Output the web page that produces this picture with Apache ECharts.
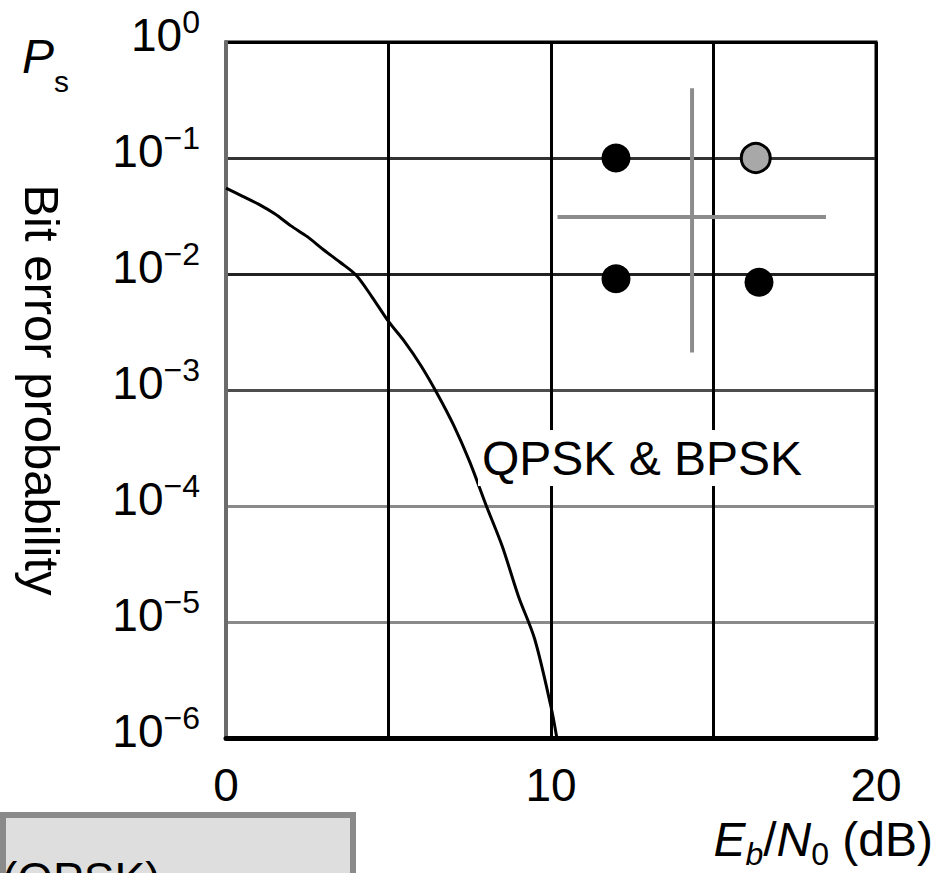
<!DOCTYPE html>
<html>
<head>
<meta charset="utf-8">
<title>QPSK & BPSK bit error probability</title>
<script src="https://cdn.jsdelivr.net/npm/echarts@6/dist/echarts.min.js"></script>
<style>
  html, body { margin: 0; padding: 0; background: #fff; }
  #chart { width: 934px; height: 873px; }
</style>
</head>
<body>
<div id="chart"></div>
<script>
// curve: Eb/N0 (dB) -> bit error probability
const ebn0Db = [0, 0.5, 1, 1.5, 2, 2.5, 3, 3.5, 4, 4.5, 5, 5.5, 6, 6.5, 7, 7.5, 8, 8.5, 9, 9.5, 10, 10.18]
const bitErrorProb = [0.055, 0.047, 0.040, 0.033, 0.026, 0.021, 0.0162, 0.0127, 0.0098, 0.0063, 0.0039, 0.0026,
  0.00162, 0.00093, 0.00050, 0.00024, 0.000102, 0.000045, 0.0000166, 0.0000071, 0.00000186, 0.000001]

// axes
const xTicks = [0, 10, 20]
const yExponents = [0, -1, -2, -3, -4, -5, -6]

// constellation inset (4 points + cross), in chart units
const dotX = [12.0, 16.3, 12.0, 16.4]
const dotY = [0.1, 0.1, 0.0091, 0.0085]
const crossVX = [14.34, 14.34]
const crossVY = [0.40, 0.0021]
const crossHX = [10.2, 18.46]
const crossHY = [0.031, 0.031]

const FONT = '"Liberation Sans", Arial, Helvetica, sans-serif'

const chart = echarts.init(document.getElementById('chart'), null, { renderer: 'svg' })

// colours of the decade lines, from 1e-6 up to 1e0
const decadeColors = ['#000', '#8a8a8a', '#8a8a8a', '#4d4d4d', '#222', '#333', '#000']

function yLabel (v) {
  const e = Math.round(Math.log10(v))
  return '{b|10}{s|' + (e === 0 ? '0' : '\u2212' + (-e)) + '}'
}

const option = {
  animation: false,
  backgroundColor: '#fff',
  grid: {
    left: 226,
    right: 58,
    top: 42,
    bottom: 135,
    outerBoundsMode: 'none',
    show: true,
    borderColor: '#000',
    borderWidth: 3
  },
  xAxis: {
    type: 'value',
    min: 0,
    max: 20,
    interval: 5,
    axisLine: { lineStyle: { color: '#000', width: 5 } },
    axisTick: { show: false },
    axisLabel: {
      fontFamily: FONT,
      fontSize: 46,
      color: '#000',
      margin: 24,
      formatter: function (v) { return xTicks.indexOf(v) >= 0 ? String(v) : '' }
    },
    splitLine: { lineStyle: { color: '#000', width: 3 } },
    name: '{i|E}{si|b}{n|/}{i|N}{s|0}{n| (dB)}',
    nameLocation: 'end',
    nameGap: 57,
    nameTextStyle: {
      align: 'right',
      verticalAlign: 'top',
      padding: [70, 0, 0, 0],
      rich: {
        i: { fontFamily: FONT, fontSize: 48, fontStyle: 'italic', lineHeight: 62, color: '#000' },
        n: { fontFamily: FONT, fontSize: 48, lineHeight: 62, color: '#000' },
        si: { fontFamily: FONT, fontSize: 32, fontStyle: 'italic', lineHeight: 28, verticalAlign: 'bottom', color: '#000' },
        s: { fontFamily: FONT, fontSize: 32, lineHeight: 28, verticalAlign: 'bottom', color: '#000' }
      }
    }
  },
  yAxis: {
    type: 'log',
    logBase: 10,
    min: Math.pow(10, yExponents[yExponents.length - 1]),
    max: Math.pow(10, yExponents[0]),
    splitNumber: 6,
    axisLine: { lineStyle: { color: '#6b6b6b', width: 4 } },
    axisTick: { show: false },
    axisLabel: {
      margin: 26,
      padding: [0, 0, 14, 0],
      formatter: yLabel,
      rich: {
        b: { fontFamily: FONT, fontSize: 46, lineHeight: 58, color: '#000' },
        s: { fontFamily: FONT, fontSize: 32, lineHeight: 34, verticalAlign: 'top', color: '#000' }
      }
    },
    splitLine: { lineStyle: { color: decadeColors, width: 3 } },
    name: 'Bit error probability',
    nameLocation: 'middle',
    nameRotate: -90,
    nameGap: 160,
    nameTextStyle: { fontFamily: FONT, fontSize: 49, color: '#000' }
  },
  series: [
    {
      // the BER curve
      type: 'line',
      data: ebn0Db.map((x, i) => [x, bitErrorProb[i]]),
      smooth: 0.3,
      showSymbol: false,
      lineStyle: { color: '#000', width: 3 },
      z: 3
    },
    {
      type: 'line',
      data: crossVX.map((x, i) => [x, crossVY[i]]),
      showSymbol: false,
      lineStyle: { color: '#8c8c8c', width: 4 },
      z: 2
    },
    {
      type: 'line',
      data: crossHX.map((x, i) => [x, crossHY[i]]),
      showSymbol: false,
      lineStyle: { color: '#8c8c8c', width: 4 },
      z: 2
    },
    {
      type: 'scatter',
      symbolSize: 29,
      data: dotX.map((x, i) => ({
        value: [x, dotY[i]],
        itemStyle: i === 1
          ? { color: '#a8a8a8', borderColor: '#000', borderWidth: 3, opacity: 1 }
          : { color: '#000', opacity: 1 }
      })),
      z: 4
    }
  ],
  graphic: [
    {
      type: 'text',
      left: 22,
      top: 32,
      style: {
        text: '{p|P}{s|s}',
        rich: {
          p: { fontFamily: FONT, fontSize: 48, fontStyle: 'italic', lineHeight: 80, fill: '#000' },
          s: { fontFamily: FONT, fontSize: 30, lineHeight: 16, verticalAlign: 'bottom', fill: '#000' }
        }
      }
    },
    {
      type: 'text',
      left: 478,
      top: 430,
      z: 10,
      style: {
        text: 'QPSK & BPSK',
        font: '48px ' + FONT,
        fill: '#000',
        backgroundColor: '#fff',
        padding: [4, 4, 4, 4]
      }
    },
    {
      // cut-off legend box at the bottom left
      type: 'rect',
      left: 0,
      top: 812,
      shape: { width: 350, height: 70 },
      style: { fill: '#dedede', stroke: '#8a8a8a', lineWidth: 6 }
    },
    {
      type: 'text',
      left: 2,
      top: 856,
      style: { text: '(QPSK)', font: '46px ' + FONT, fill: '#000' }
    }
  ]
}

chart.setOption(option)
</script>
</body>
</html>
